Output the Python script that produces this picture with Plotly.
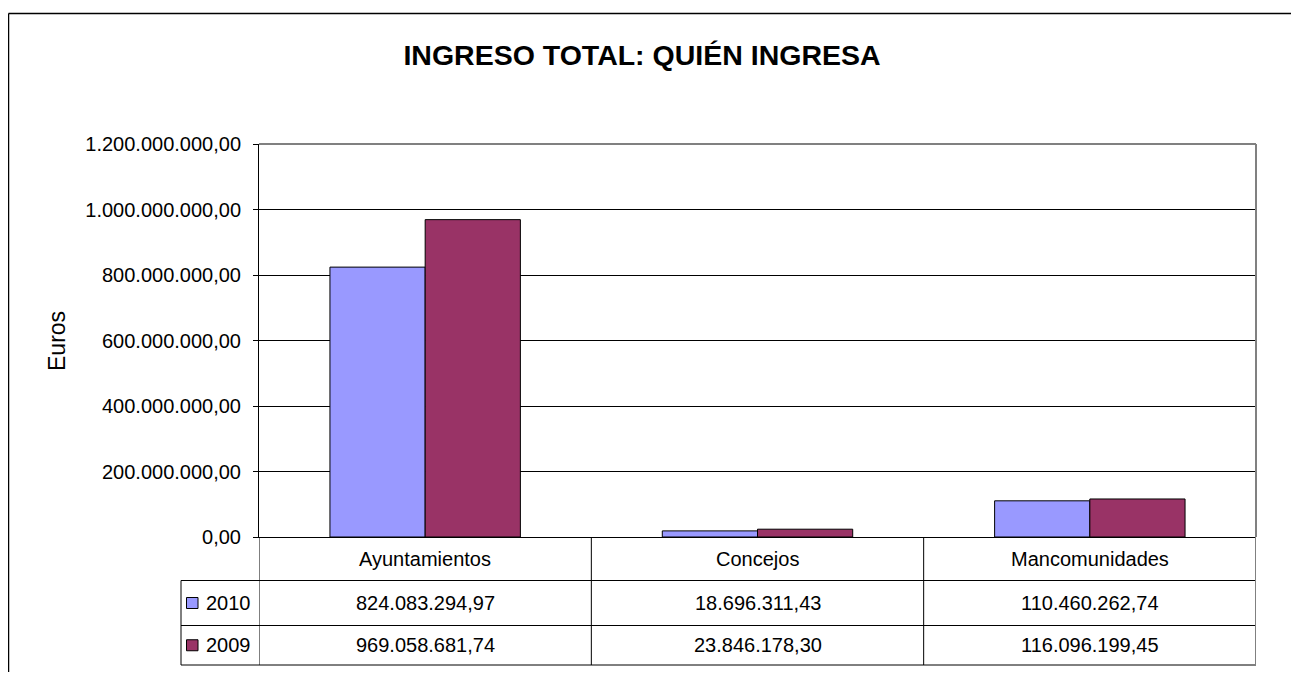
import plotly.graph_objects as go

categories = ["Ayuntamientos", "Concejos", "Mancomunidades"]
series_names = ["2010", "2009"]
values_2010 = [824083294.97, 18696311.43, 110460262.74]
values_2009 = [969058681.74, 23846178.30, 116096199.45]
colors = ["#9999FF", "#993366"]
y_ticks = [0, 200e6, 400e6, 600e6, 800e6, 1000e6, 1200e6]

W, H = 1291, 664
L, R, T, B = 251, 43, 136, 135
PW, PH = W - L - R, H - T - B

def px_x(fx):
    return (fx - L) / PW

def px_y(fy):
    return (H - B - fy) / PH

def fmt(v):
    s = f"{v:,.2f}"
    return s.replace(",", "X").replace(".", ",").replace("X", ".")

FONT = "Liberation Sans, Arial, sans-serif"
fs = 20

fig = go.Figure()
for name, vals, col in zip(series_names, [values_2010, values_2009], colors):
    fig.add_trace(go.Bar(x=categories, y=vals, name=name,
                         marker=dict(color=col, line=dict(color="black", width=1))))

shapes = []
annotations = []

# table row boundaries (figure pixel coordinates)
row_y = [529, 572.5, 617.5, 657]
ry = [px_y(v) for v in row_y]
leg_left = px_x(173)

# horizontal lines
shapes.append(dict(type="line", xref="paper", yref="paper", x0=0, x1=1, y0=ry[1], y1=ry[1],
                   line=dict(color="black", width=1)))
for yy in ry[1:]:
    shapes.append(dict(type="line", xref="paper", yref="paper", x0=leg_left, x1=1, y0=yy, y1=yy,
                       line=dict(color="black", width=1)))
# vertical lines at category boundaries
for i in range(len(categories) + 1):
    xb = i - 0.5
    shapes.append(dict(type="line", xref="x", yref="paper", x0=xb, x1=xb, y0=0, y1=ry[3],
                       line=dict(color="black" if i < len(categories) else "#808080",
                                 width=1 if i < len(categories) else 2)))
shapes.append(dict(type="line", xref="paper", yref="paper", x0=leg_left, x1=leg_left, y0=ry[1], y1=ry[3],
                   line=dict(color="black", width=1)))
# plot area top/right border gray
shapes.append(dict(type="line", xref="paper", yref="paper", x0=0, x1=1, y0=1, y1=1,
                   line=dict(color="#808080", width=2)))
shapes.append(dict(type="line", xref="paper", yref="paper", x0=1, x1=1, y0=0, y1=1,
                   line=dict(color="#808080", width=2)))
# outer chart border (left and top visible)
shapes.append(dict(type="line", xref="paper", yref="paper", x0=px_x(0.5), x1=px_x(W + 40),
                   y0=px_y(5.5), y1=px_y(5.5), line=dict(color="black", width=1.5)))
shapes.append(dict(type="line", xref="paper", yref="paper", x0=px_x(0.5), x1=px_x(0.5),
                   y0=px_y(5.5), y1=px_y(H + 40), line=dict(color="black", width=1.5)))

# category labels
for c in categories:
    annotations.append(dict(x=c, xref="x", y=(ry[0] + ry[1]) / 2, yref="paper", text=c,
                            showarrow=False, font=dict(size=fs, color="black", family=FONT),
                            xanchor="center", yanchor="middle"))
# values rows
for r, (name, vals, col) in enumerate(zip(series_names, [values_2010, values_2009], colors)):
    ymid = (ry[r + 1] + ry[r + 2]) / 2
    for c, v in zip(categories, vals):
        annotations.append(dict(x=c, xref="x", y=ymid, yref="paper", text=fmt(v),
                                showarrow=False, font=dict(size=fs, color="black", family=FONT),
                                xanchor="center", yanchor="middle"))
    # legend key square
    cy = row_y[r + 1] + (row_y[r + 2] - row_y[r + 1]) / 2
    shapes.append(dict(type="rect", xref="paper", yref="paper",
                       x0=px_x(178.5), x1=px_x(190), y0=px_y(cy - 5.5), y1=px_y(cy + 5.5),
                       fillcolor=col, line=dict(color="black", width=1)))
    annotations.append(dict(x=px_x(196), xref="paper", y=ymid, yref="paper", text=name,
                            showarrow=False, font=dict(size=fs, color="black", family=FONT),
                            xanchor="left", yanchor="middle"))

# y-axis title
annotations.append(dict(x=px_x(49), xref="paper", y=px_y(333), yref="paper", text="Euros",
                        textangle=-90, showarrow=False,
                        font=dict(size=23, color="black", family=FONT),
                        xanchor="center", yanchor="middle"))

fig.update_layout(
    width=W, height=H,
    margin=dict(l=L, r=R, t=T, b=B, pad=0),
    paper_bgcolor="white", plot_bgcolor="white",
    separators=",.",
    showlegend=False,
    barmode="group", bargap=0.427, bargroupgap=0,
    title=dict(text="<b>INGRESO TOTAL: QUIÉN INGRESA</b>", x=634 / W, xanchor="center",
               y=1 - 47 / H, yanchor="middle",
               font=dict(size=28.5, color="black", family=FONT)),
    font=dict(family=FONT, size=fs, color="black"),
    shapes=shapes, annotations=annotations,
)
fig.update_xaxes(showticklabels=False, showline=True, linecolor="black", linewidth=1,
                 ticks="", showgrid=False, range=[-0.5, 2.5], zeroline=False)
fig.update_yaxes(range=[0, 1.2e9], tickvals=y_ticks, tickformat=",.2f",
                 showline=True, linecolor="black", linewidth=1,
                 ticks="outside", ticklen=5, tickcolor="black", ticklabelstandoff=8,
                 showgrid=True, gridcolor="black", gridwidth=1, zeroline=False,
                 tickfont=dict(size=fs, color="black", family=FONT))

fig.write_html("out.html")
